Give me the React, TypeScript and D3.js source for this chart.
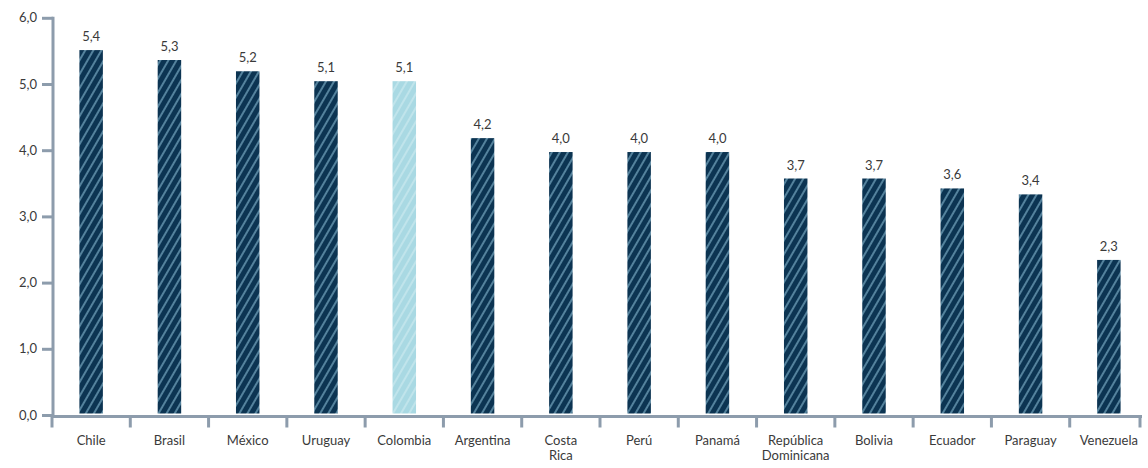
import React from "react";
import * as d3 from "d3";

const categories = ["Chile","Brasil","México","Uruguay","Colombia","Argentina","Costa Rica","Perú","Panamá","República Dominicana","Bolivia","Ecuador","Paraguay","Venezuela"];
const barValues = [5.52, 5.37, 5.2, 5.05, 5.05, 4.19, 3.98, 3.98, 3.98, 3.58, 3.58, 3.43, 3.34, 2.35];
const valueLabels = ["5,4","5,3","5,2","5,1","5,1","4,2","4,0","4,0","4,0","3,7","3,7","3,6","3,4","2,3"];
const highlight = "Colombia";
const yTicks = [0, 1, 2, 3, 4, 5, 6];

const W = 1148, H = 468;
const FONT = "Lato, 'Noto Sans', sans-serif";

export default function App() {
  const x = d3.scaleBand<string>().domain(categories).range([52, 1148]).paddingInner(0.7).paddingOuter(0.35);
  const y = d3.scaleLinear().domain([0, 6]).range([415.5, 18.3]);
  const axisColor = "#8d9cac";
  const textColor = "#3a3a3a";
  const step = x.step();
  const boundaries = categories.map((c) => (x(c) as number) + x.bandwidth() / 2 - step / 2);
  return (
    <svg width={W} height={H} style={{ position: "absolute", left: 0, top: 0, background: "#fff" }}>
      <defs>
        <pattern id="hatchDark" width="7" height="7" patternUnits="userSpaceOnUse" patternTransform="rotate(30)">
          <rect width="7" height="7" fill="#0c3452" />
          <line x1="1" y1="0" x2="1" y2="7" stroke="#8fc3da" strokeWidth="1.1" />
        </pattern>
        <pattern id="hatchLight" width="7" height="7" patternUnits="userSpaceOnUse" patternTransform="rotate(30)">
          <rect width="7" height="7" fill="#a9d9e3" />
          <line x1="1" y1="0" x2="1" y2="7" stroke="#d4eef2" strokeWidth="1.1" />
        </pattern>
      </defs>
      {categories.map((c, i) => {
        const bx = x(c) as number;
        const top = y(barValues[i]);
        return (
          <g key={c}>
            <rect x={bx} y={top} width={x.bandwidth()} height={y(0) - top - 2} fill={c === highlight ? "url(#hatchLight)" : "url(#hatchDark)"} />
            <text x={bx + x.bandwidth() / 2} y={top - 9} textAnchor="middle" fontFamily={FONT} fontSize={13} fill={textColor}>{valueLabels[i]}</text>
          </g>
        );
      })}
      {/* y axis */}
      <line x1={53} x2={53} y1={y(6) - 1.5} y2={y(0)} stroke={axisColor} strokeWidth={3} />
      {yTicks.map((t) => (
        <g key={t}>
          <line x1={42} x2={53} y1={y(t)} y2={y(t)} stroke={axisColor} strokeWidth={3} />
          <text x={37} y={y(t) + 4} textAnchor="end" fontFamily={FONT} fontSize={13} fill={textColor}>{d3.format(".1f")(t).replace(".", ",")}</text>
        </g>
      ))}
      {/* x axis */}
      <line x1={52} x2={1142} y1={y(0) + 1} y2={y(0) + 1} stroke={axisColor} strokeWidth={3} />
      {boundaries.map((b, i) => (
        <line key={i} x1={b} x2={b} y1={y(0)} y2={y(0) + 12} stroke={axisColor} strokeWidth={3} />
      ))}
      <line x1={1140} x2={1140} y1={y(0)} y2={y(0) + 12} stroke={axisColor} strokeWidth={3} />
      {categories.map((c) => {
        const cx = (x(c) as number) + x.bandwidth() / 2;
        const words = c.split(" ");
        return (
          <text key={c} x={cx} y={445} textAnchor="middle" fontFamily={FONT} fontSize={13} fill={textColor}>
            {words.map((w, j) => (
              <tspan key={j} x={cx} dy={j === 0 ? 0 : 15}>{w}</tspan>
            ))}
          </text>
        );
      })}
    </svg>
  );
}
